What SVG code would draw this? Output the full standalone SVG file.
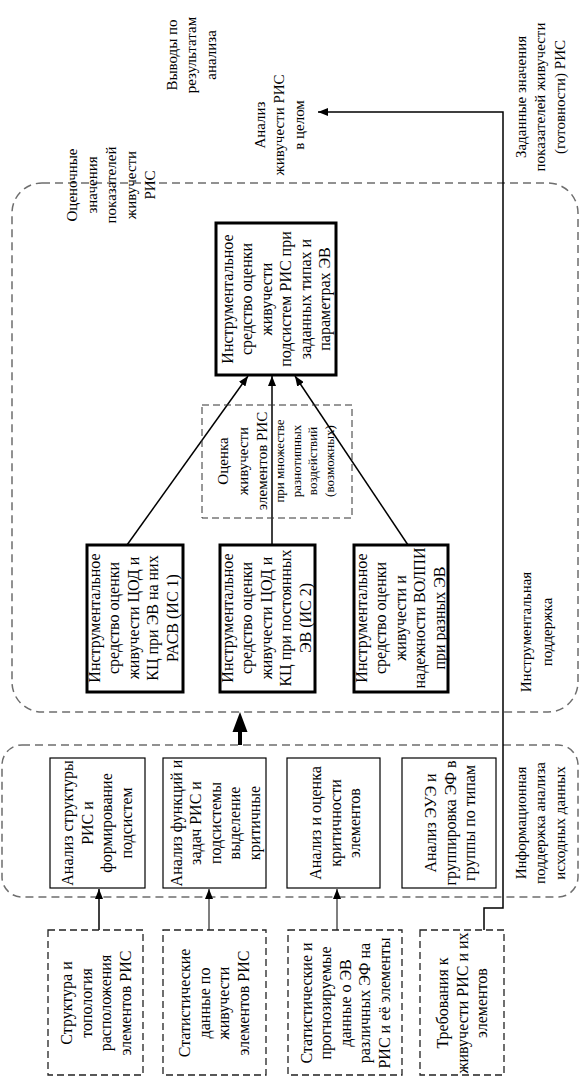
<svg xmlns="http://www.w3.org/2000/svg" width="580" height="1079" viewBox="0 0 580 1079">
<style>
text{font-family:"Liberation Serif","Times New Roman",serif;font-size:16px;fill:#000;text-anchor:middle}
.lbl{font-size:15px}
.sm{font-size:13px}
.big{fill:none;stroke:#6e6e6e;stroke-width:1.5;stroke-dasharray:8 5}
.thick{fill:#fff;stroke:#000;stroke-width:3}
.solid{fill:#fff;stroke:#000;stroke-width:1.2}
.dash{fill:#fff;stroke:#222;stroke-width:1.3;stroke-dasharray:7 4}
.dash2{fill:none;stroke:#333;stroke-width:1;stroke-dasharray:7 4}
.ln{fill:none;stroke:#000;stroke-width:1.5}
.gln{fill:none;stroke:#555;stroke-width:1.5}
</style>
<defs>
<marker id="ah" viewBox="0 0 10 8" refX="10" refY="4" markerWidth="10" markerHeight="8" markerUnits="userSpaceOnUse" orient="auto">
<path d="M0,0 L10,4 L0,8 Z" fill="#000"/>
</marker>
</defs>

<g id="frame-instr">
<rect class="big" x="12" y="183" width="566" height="529" rx="30" ry="30"/>
</g>
<g id="frame-info">
<rect class="big" x="2" y="745" width="576" height="152" rx="20" ry="20"/>
</g>

<g id="connectors">
<line class="ln" x1="127" y1="545" x2="248" y2="376" marker-end="url(#ah)"/>
<line class="ln" x1="272" y1="545" x2="272" y2="376" marker-end="url(#ah)"/>
<line class="ln" x1="408" y1="545" x2="295" y2="376" marker-end="url(#ah)"/>
<line class="ln" x1="99" y1="930" x2="99" y2="889" marker-end="url(#ah)"/>
<line class="gln" x1="209" y1="930" x2="209" y2="889" marker-end="url(#ah)"/>
<line class="gln" x1="337" y1="930" x2="337" y2="889" marker-end="url(#ah)"/>
<polyline class="ln" points="484,930 484,908 503,908 503,112 318,112" marker-end="url(#ah)"/>
<line x1="240" y1="745" x2="240" y2="728" stroke="#000" stroke-width="4"/>
<polygon points="232.5,732 247.5,732 240,712" fill="#000"/>
</g>

<g id="labels">
<text class="lbl" transform="translate(191,55) rotate(-90)"><tspan x="0" y="-14.3">Выводы по</tspan><tspan x="0" y="5.2">результатам</tspan><tspan x="0" y="24.7">анализа</tspan></text>
<text class="lbl" transform="translate(279,125) rotate(-90)"><tspan x="0" y="-14.3">Анализ</tspan><tspan x="0" y="5.2">живучести РИС</tspan><tspan x="0" y="24.7">в целом</tspan></text>
<text class="lbl" transform="translate(540,97) rotate(-90)"><tspan x="0" y="-14.3">Заданные значения</tspan><tspan x="0" y="5.2">показателей живучести</tspan><tspan x="0" y="24.7">(готовности) РИС</tspan></text>
<text class="lbl" transform="translate(111,185) rotate(-90)"><tspan x="0" y="-33.8">Оценочные</tspan><tspan x="0" y="-14.3">значения</tspan><tspan x="0" y="5.2">показателей</tspan><tspan x="0" y="24.7">живучести</tspan><tspan x="0" y="44.2">РИС</tspan></text>
<text class="lbl" transform="translate(536,632) rotate(-90)"><tspan x="0" y="-5.5">Инструментальная</tspan><tspan x="0" y="16">поддержка</tspan></text>
<text class="lbl" transform="translate(540,823) rotate(-90)"><tspan x="0" y="-14.3">Информационная</tspan><tspan x="0" y="5.2">поддержка анализа</tspan><tspan x="0" y="24.7">исходных данных</tspan></text>
</g>

<g id="node-top">
<rect class="thick" x="216" y="223" width="120" height="152"/>
<text transform="translate(276,299) rotate(-90)"><tspan x="0" y="-43.1">Инструментальное</tspan><tspan x="0" y="-23.6">средство оценки</tspan><tspan x="0" y="-4.1">живучести</tspan><tspan x="0" y="15.4">подсистем РИС при</tspan><tspan x="0" y="34.9">заданных типах и</tspan><tspan x="0" y="54.4">параметрах ЭВ</tspan></text>
</g>

<g id="node-eval">
<rect class="dash2" x="202" y="405" width="150" height="113"/>
<text transform="translate(276,461) rotate(-90)"><tspan class="lbl" x="0" y="-48.5">Оценка</tspan><tspan class="lbl" x="0" y="-28.5">живучести</tspan><tspan class="lbl" x="0" y="-9.5">элементов РИС</tspan><tspan class="sm" x="0" y="8">при множестве</tspan><tspan class="sm" x="0" y="25">разнотипных</tspan><tspan class="sm" x="0" y="41">воздействий</tspan><tspan class="sm" x="0" y="58">(возможных)</tspan></text>
</g>

<g id="node-is1">
<rect class="thick" x="87" y="545" width="96" height="147"/>
<text transform="translate(133,618) rotate(-90)"><tspan x="0" y="-33.4">Инструментальное</tspan><tspan x="0" y="-13.9">средство оценки</tspan><tspan x="0" y="5.6">живучести ЦОД и</tspan><tspan x="0" y="25.1">КЦ при ЭВ на них</tspan><tspan x="0" y="44.6">РАСВ (ИС 1)</tspan></text>
</g>
<g id="node-is2">
<rect class="thick" x="220" y="545" width="95" height="147"/>
<text transform="translate(266,618) rotate(-90)"><tspan x="0" y="-33.4">Инструментальное</tspan><tspan x="0" y="-13.9">средство оценки</tspan><tspan x="0" y="5.6">живучести ЦОД и</tspan><tspan x="0" y="25.1">КЦ при постоянных</tspan><tspan x="0" y="44.6">ЭВ (ИС 2)</tspan></text>
</g>
<g id="node-is3">
<rect class="thick" x="354" y="545" width="94" height="147"/>
<text transform="translate(400,618) rotate(-90)"><tspan x="0" y="-33.4">Инструментальное</tspan><tspan x="0" y="-13.9">средство оценки</tspan><tspan x="0" y="5.6">живучести и</tspan><tspan x="0" y="25.1">надежности ВОЛПИ</tspan><tspan x="0" y="44.6">при разных ЭВ</tspan></text>
</g>

<g id="node-a1">
<rect class="solid" x="50" y="758" width="95" height="130"/>
<text transform="translate(97,823) rotate(-90)"><tspan x="0" y="-23.6">Анализ структуры</tspan><tspan x="0" y="-4.1">РИС и</tspan><tspan x="0" y="15.4">формирование</tspan><tspan x="0" y="34.9">подсистем</tspan></text>
</g>
<g id="node-a2">
<rect class="solid" x="163" y="758" width="103" height="130"/>
<text transform="translate(215,823) rotate(-90)"><tspan x="0" y="-33.4">Анализ функций и</tspan><tspan x="0" y="-13.9">задач РИС и</tspan><tspan x="0" y="5.6">подсистемы</tspan><tspan x="0" y="25.1">выделение</tspan><tspan x="0" y="44.6">критичные</tspan></text>
</g>
<g id="node-a3">
<rect class="solid" x="287" y="758" width="93" height="130"/>
<text transform="translate(335,823) rotate(-90)"><tspan x="0" y="-13.9">Анализ и оценка</tspan><tspan x="0" y="5.6">критичности</tspan><tspan x="0" y="25.1">элементов</tspan></text>
</g>
<g id="node-a4">
<rect class="solid" x="402" y="758" width="94" height="130"/>
<text transform="translate(450,823) rotate(-90)"><tspan x="0" y="-13.9">Анализ ЭУЭ и</tspan><tspan x="0" y="5.6">группировка ЭФ в</tspan><tspan x="0" y="25.1">группы по типам</tspan></text>
</g>

<g id="node-in1">
<rect class="dash" x="48" y="930" width="95" height="145"/>
<text transform="translate(96,1003) rotate(-90)"><tspan x="0" y="-23.6">Структура и</tspan><tspan x="0" y="-4.1">топология</tspan><tspan x="0" y="15.4">расположения</tspan><tspan x="0" y="34.9">элементов РИС</tspan></text>
</g>
<g id="node-in2">
<rect class="dash" x="163" y="930" width="103" height="145"/>
<text transform="translate(214,1003) rotate(-90)"><tspan x="0" y="-23.6">Статистические</tspan><tspan x="0" y="-4.1">данные по</tspan><tspan x="0" y="15.4">живучести</tspan><tspan x="0" y="34.9">элементов РИС</tspan></text>
</g>
<g id="node-in3">
<rect class="dash" x="288" y="930" width="114" height="145"/>
<text transform="translate(345,1003) rotate(-90)"><tspan x="0" y="-33.4">Статистические и</tspan><tspan x="0" y="-13.9">прогнозируемые</tspan><tspan x="0" y="5.6">данные о ЭВ</tspan><tspan x="0" y="25.1">различных ЭФ на</tspan><tspan x="0" y="44.6">РИС и её элементы</tspan></text>
</g>
<g id="node-in4">
<rect class="dash" x="420" y="930" width="84" height="145"/>
<text transform="translate(462,1003) rotate(-90)"><tspan x="0" y="-13.9">Требования к</tspan><tspan x="0" y="5.6">живучести РИС и их</tspan><tspan x="0" y="25.1">элементов</tspan></text>
</g>
</svg>
